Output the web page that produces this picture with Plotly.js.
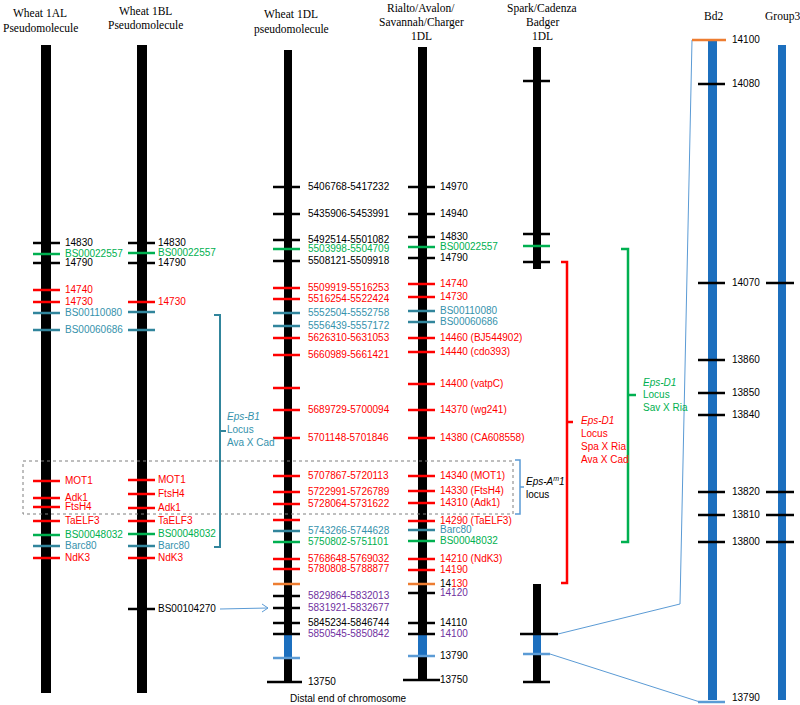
<!DOCTYPE html>
<html><head><meta charset="utf-8">
<script src="https://cdn.plot.ly/plotly-3.0.1.min.js"></script>
<style>html,body{margin:0;padding:0;background:#fff}#chart{width:800px;height:705px}</style>
</head><body><div id="chart"></div>
<script>
// ---------------- DATA (map positions, top = 0) ----------------
// marker kinds: k black, K black long, g green, r red, t teal, p purple label, o orange tick, b light-blue tick
const chr1AL_pos    = [243,254,263,290,302,313,330,481,498,507,521,535,546,558];
const chr1AL_labels = ['14830','BS00022557','14790','14740','14730','BS00110080','BS00060686','MOT1','Adk1','FtsH4','TaELF3','BS00048032','Barc80','NdK3'];
const chr1AL_kinds  = ['k','g','k','r','r','t','t','r','r','r','r','g','t','r'];

const chr1BL_pos    = [243,253,263,302,312,330,480,494,508,521,534,546,558,609];
const chr1BL_labels = ['14830','BS00022557','14790','14730','','','MOT1','FtsH4','Adk1','TaELF3','BS00048032','Barc80','NdK3','BS00104270'];
const chr1BL_kinds  = ['k','g','k','r','t','t','r','r','r','r','g','t','r','k'];

const chr1DL_pos    = [187,214,240,249,261,288,299,313,326,338,355,388,410,438,476,492,504,520,531,542,559,569,584,596,608,623,634,658,682];
const chr1DL_labels = ['5406768-5417232','5435906-5453991','5492514-5501082','5503998-5504709','5508121-5509918','5509919-5516253','5516254-5522424','5552504-5552758','5556439-5557172','5626310-5631053','5660989-5661421','','5689729-5700094','5701148-5701846','5707867-5720113','5722991-5726789','5728064-5731622','','5743266-5744628','5750802-5751101','5768648-5769032','5780808-5788877','','5829864-5832013','5831921-5832677','5845234-5846744','5850545-5850842','','13750'];
const chr1DL_kinds  = ['k','k','k','g','k','r','r','t','t','r','r','r','r','r','r','r','r','r','t','g','r','r','o','p','p','k','p','b','K'];

const rialto_pos    = [187,214,237,247,258,284,297,311,322,338,352,384,410,438,476,491,503,521,530,541,559,570,584,593,623,634,656,680];
const rialto_labels = ['14970','14940','14830','BS00022557','14790','14740','14730','BS00110080','BS00060686','14460 (BJ544902)','14440 (cdo393)','14400 (vatpC)','14370 (wg241)','14380 (CA608558)','14340 (MOT1)','14330 (FtsH4)','14310 (Adk1)','14290 (TaELF3)','Barc80','BS00048032','14210 (NdK3)','14190','14130','14120','14110','14100','13790','13750'];
const rialto_kinds  = ['k','k','k','g','k','r','r','t','t','r','r','r','r','r','r','r','r','r','t','g','r','r','o','p','k','p','b','K'];

const spark_pos    = [81,234,246,262,634,654,682];
const spark_labels = ['','','','','','',''];
const spark_kinds  = ['k','k','g','k','K','b','k'];

const bd2_pos    = [40,84,283,360,393,415,492,515,542,702];
const bd2_labels = ['14100','14080','14070','13860','13850','13840','13820','13810','13800','13790'];
const bd2_kinds  = ['o','k','k','k','k','k','k','k','k','b'];

const group3_pos    = [283,492,515,542];
const group3_labels = ['','','',''];
const group3_kinds  = ['k','k','k','k'];

const titleLines = [
  ['Wheat 1AL','Pseudomolecule'],
  ['Wheat 1BL','Pseudomolecule'],
  ['Wheat 1DL','pseudomolecule'],
  ['Rialto/Avalon/','Savannah/Charger','1DL'],
  ['Spark/Cadenza','Badger','1DL'],
  ['Bd2'],
  ['Group3']
];
const locusB1   = ['<i>Eps-B1</i>','Locus','Ava X Cad'];
const locusD1r  = ['<i>Eps-D1</i>','Locus','Spa X Ria','Ava X Cad'];
const locusD1g  = ['<i>Eps-D1</i>','Locus','Sav X Ria'];
const locusAm1  = ['<i>Eps-A<sup>m</sup>1</i>','locus'];
const distalText = 'Distal end of chromosome';

// ---------------- LAYOUT / STYLE ----------------
const C = {black:'#000000', red:'#FF0000', green:'#00B050', teal:'#31859C', purple:'#7030A0',
           orange:'#ED7D31', lblue:'#5B9BD5', blue:'#1C6FBE', tealText:'#3592AC'};
const KIND = {
  k:{tick:C.black, text:C.black}, K:{tick:C.black, text:C.black, long:true},
  g:{tick:C.green, text:C.green}, r:{tick:C.red, text:C.red},
  t:{tick:C.teal, text:C.tealText}, p:{tick:C.black, text:C.purple},
  o:{tick:C.orange, text:'mixed'}, b:{tick:C.lblue, text:C.black}
};
const SANS = 'Liberation Sans, Arial, sans-serif';
const SERIF = 'Liberation Serif, Times New Roman, serif';

const cols = [
  {cx:46,   w:10, bars:[[45,693]],           tick:[33,60],   long:[33,60],   lx:64,  titleX:40,  titleY:[13,28], color:C.black},
  {cx:142,  w:10, bars:[[45,693]],           tick:[128,155], long:[128,155], lx:157, titleX:145, titleY:[11,25], color:C.black},
  {cx:288,  w:8,  bars:[[50,682]],           tick:[273,300], long:[267,302], lx:307, titleX:291, titleY:[14,29], color:C.black, blue:[634,658]},
  {cx:422.5,w:9,  bars:[[47,680]],           tick:[408,435], long:[403,440], lx:439, titleX:421, titleY:[8,22,36], color:C.black, blue:[634,656]},
  {cx:537,  w:8,  bars:[[47,269],[584,682]], tick:[523,550], long:[520,558], lx:555, titleX:542, titleY:[8,22,36], color:C.black, blue:[634,654]},
  {cx:712.5,w:9,  bars:[[40,700]],           tick:[698,725], long:[698,725], lx:731, titleX:713, titleY:[16], color:C.blue},
  {cx:782,  w:8,  bars:[[45,700]],           tick:[766,794], long:[766,794], lx:800, titleX:782, titleY:[16], color:C.blue}
];
const markerSets = [
  [chr1AL_pos, chr1AL_labels, chr1AL_kinds],
  [chr1BL_pos, chr1BL_labels, chr1BL_kinds],
  [chr1DL_pos, chr1DL_labels, chr1DL_kinds],
  [rialto_pos, rialto_labels, rialto_kinds],
  [spark_pos, spark_labels, spark_kinds],
  [bd2_pos, bd2_labels, bd2_kinds],
  [group3_pos, group3_labels, group3_kinds]
];

const shapes = [];
const annotations = [];
const segs = {};
function seg(color, xs, ys) {
  if (!segs[color]) segs[color] = {x:[], y:[]};
  segs[color].x.push(...xs, null); segs[color].y.push(...ys, null);
}
function text(x, y, t, color, size, font, anchor) {
  annotations.push({x:x, y:y, xref:'x', yref:'y', text:t, showarrow:false, borderpad:0,
    xanchor:anchor||'left', yanchor:'middle', font:{family:font||SANS, size:size||10, color:color||'#000'}});
}

cols.forEach((c, i) => {
  c.bars.forEach(b => shapes.push({type:'rect', xref:'x', yref:'y', layer:'below',
    x0:c.cx - c.w/2, x1:c.cx + c.w/2, y0:b[0], y1:b[1], fillcolor:c.color, line:{width:0}}));
  if (c.blue) shapes.push({type:'rect', xref:'x', yref:'y', layer:'below',
    x0:c.cx - c.w/2, x1:c.cx + c.w/2, y0:c.blue[0], y1:c.blue[1], fillcolor:C.blue, line:{width:0}});
  titleLines[i].forEach((t, j) => text(c.titleX, c.titleY[j], t, '#000', 11.5, SERIF, 'center'));
  const [pos, labels, kinds] = markerSets[i];
  pos.forEach((p, j) => {
    const k = KIND[kinds[j]];
    let ext = k.long ? c.long : c.tick;
    if (kinds[j] === 'o' && i === 5) ext = [692, 726];
    seg(k.tick, ext, [p, p]);
    const lab = labels[j];
    if (lab) {
      let t = lab, col = k.text;
      if (k.text === 'mixed') {
        col = C.black;
        if (i !== 5) t = lab.slice(0,2) + '<span style="color:' + C.red + '">' + lab.slice(2) + '</span>';
      }
      text(c.lx, Math.min(p - 1, 697), t, col, 10);
    }
  });
});

// connector lines and arrow
const links = [
  {x:[692,680,558], y:[40,604,634]},
  {x:[550,700], y:[654,702]},
  {x:[220,268,null,262,268,262], y:[609,608,null,604,608,612]}
];
// brackets
const brackets = [
  {color:C.teal,  w:2,   x:[214,220,220,214,null,220,226], y:[315,315,547,547,null,431,431]},
  {color:C.red,   w:2.5, x:[561,567,567,561,null,567,573], y:[262,262,583,583,null,422,422]},
  {color:C.green, w:2.5, x:[621,628,628,621,null,628,636], y:[249,249,542,542,null,395,395]},
  {color:C.lblue, w:1.5, x:[515,520,520,515,null,520,524], y:[460,460,514,514,null,487,487]}
];
shapes.push({type:'rect', xref:'x', yref:'y', layer:'below', x0:23, x1:513, y0:461, y1:514,
  line:{color:'#7f7f7f', width:1, dash:'dot'}, fillcolor:'rgba(0,0,0,0)'});

locusB1.forEach((t, j) => text(226, 416 + 13*j, t, C.tealText, 10));
locusD1r.forEach((t, j) => text(580, 420 + 13*j, t, C.red, 10));
locusD1g.forEach((t, j) => text(642, 382 + 12.5*j, t, C.green, 10));
locusAm1.forEach((t, j) => text(525, 481 + 13*j, t, '#000', 10));
text(348, 698, distalText, '#000', 10, SANS, 'center');

const traces = [];
links.forEach(l => traces.push({x:l.x, y:l.y, mode:'lines', line:{color:C.lblue, width:1}, hoverinfo:'skip', showlegend:false}));
brackets.forEach(b => traces.push({x:b.x, y:b.y, mode:'lines', line:{color:b.color, width:b.w}, hoverinfo:'skip', showlegend:false}));
Object.keys(segs).forEach(col => traces.push({x:segs[col].x, y:segs[col].y, mode:'lines',
  line:{color:col, width:2.5}, hoverinfo:'skip', showlegend:false}));

Plotly.newPlot('chart', traces, {
  width:800, height:705, margin:{l:0, r:0, t:0, b:0},
  paper_bgcolor:'#fff', plot_bgcolor:'#fff', showlegend:false,
  xaxis:{range:[0,800], visible:false, fixedrange:true},
  yaxis:{range:[705,0], visible:false, fixedrange:true},
  shapes:shapes, annotations:annotations
}, {displayModeBar:false, staticPlot:true});
</script></body></html>
